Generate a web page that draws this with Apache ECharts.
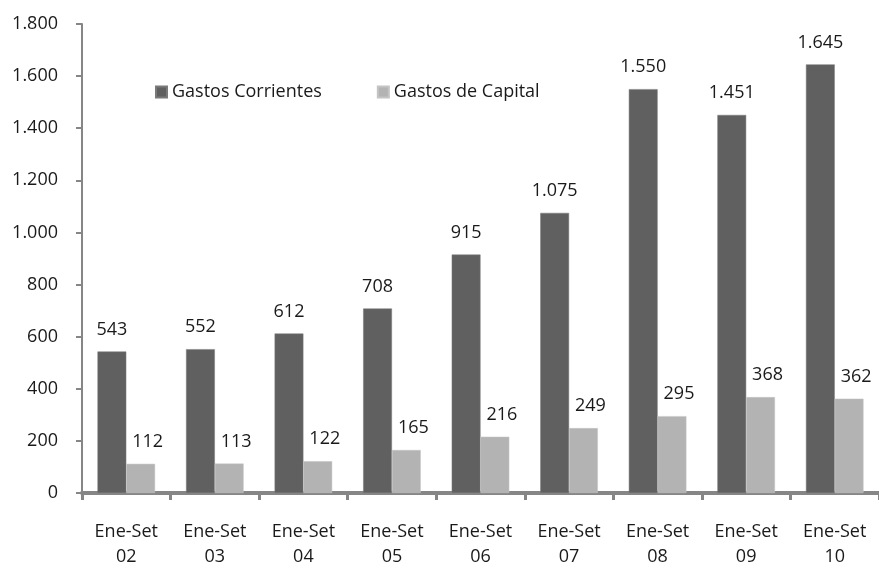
<!DOCTYPE html>
<html>
<head>
<meta charset="utf-8">
<script src="https://cdn.jsdelivr.net/npm/echarts@6/dist/echarts.min.js"></script>
<style>
html,body{margin:0;padding:0;background:#fff;}
#c{width:879px;height:569px;}
</style>
</head>
<body>
<div id="c"></div>
<script>
var categories = ["Ene-Set\n02","Ene-Set\n03","Ene-Set\n04","Ene-Set\n05","Ene-Set\n06","Ene-Set\n07","Ene-Set\n08","Ene-Set\n09","Ene-Set\n10"];
var gastosCorrientes = [543, 552, 612, 708, 915, 1075, 1550, 1451, 1645];
var gastosCapital = [112, 113, 122, 165, 216, 249, 295, 368, 362];
var seriesNames = ["Gastos Corrientes", "Gastos de Capital"];

function fmt(v){ return String(v).replace(/\B(?=(\d{3})+(?!\d))/g, '.'); }

var FONT = "Open Sans";
var chart = echarts.init(document.getElementById('c'), null, {renderer:'canvas'});
chart.setOption({
  animation: false,
  backgroundColor: '#ffffff',
  textStyle: {fontFamily: FONT},
  grid: {left: 82, width: 806, top: 24, height: 475, containLabel: false},
  legend: {
    left: 155, top: 83, padding: 0,
    itemWidth: 11, itemHeight: 11, itemGap: 55,
    icon: 'rect',
    textStyle: {fontFamily: FONT, fontSize: 18, color: '#1a1a1a'},
    data: seriesNames
  },
  xAxis: {
    type: 'category',
    data: categories,
    axisLine: {show: true, lineStyle: {color: '#868686', width: 4}},
    axisTick: {show: true, length: 7, lineStyle: {color: '#868686', width: 3}},
    axisLabel: {fontFamily: FONT, fontSize: 18, color: '#1a1a1a', lineHeight: 25, margin: 26, interval: 0},
    splitLine: {show: false}
  },
  yAxis: {
    type: 'value',
    min: 0, max: 1800, interval: 200,
    axisLine: {show: true, lineStyle: {color: '#868686', width: 2}},
    axisTick: {show: true, length: 6, lineStyle: {color: '#868686', width: 2}},
    axisLabel: {fontFamily: FONT, fontSize: 18, color: '#1a1a1a', margin: 24, formatter: function(v){return fmt(v);}},
    splitLine: {show: false}
  },
  series: [
    {
      name: seriesNames[0], type: 'bar', data: gastosCorrientes,
      barGap: '0%', barCategoryGap: '35%',
      itemStyle: {color: '#606060', borderColor: '#7a7a7a', borderWidth: 0.5},
      label: {show: true, position: 'top', distance: 13, fontFamily: FONT, fontSize: 18, color: '#1a1a1a',
        formatter: function(p){return fmt(p.value);}}
    },
    {
      name: seriesNames[1], type: 'bar', data: gastosCapital,
      barGap: '0%', barCategoryGap: '35%',
      itemStyle: {color: '#b3b3b3', borderColor: '#c4c4c4', borderWidth: 0.5},
      label: {show: true, position: 'top', distance: 13, offset: [7, 0], fontFamily: FONT, fontSize: 18, color: '#1a1a1a',
        formatter: function(p){return fmt(p.value);}}
    }
  ]
});
</script>
</body>
</html>
